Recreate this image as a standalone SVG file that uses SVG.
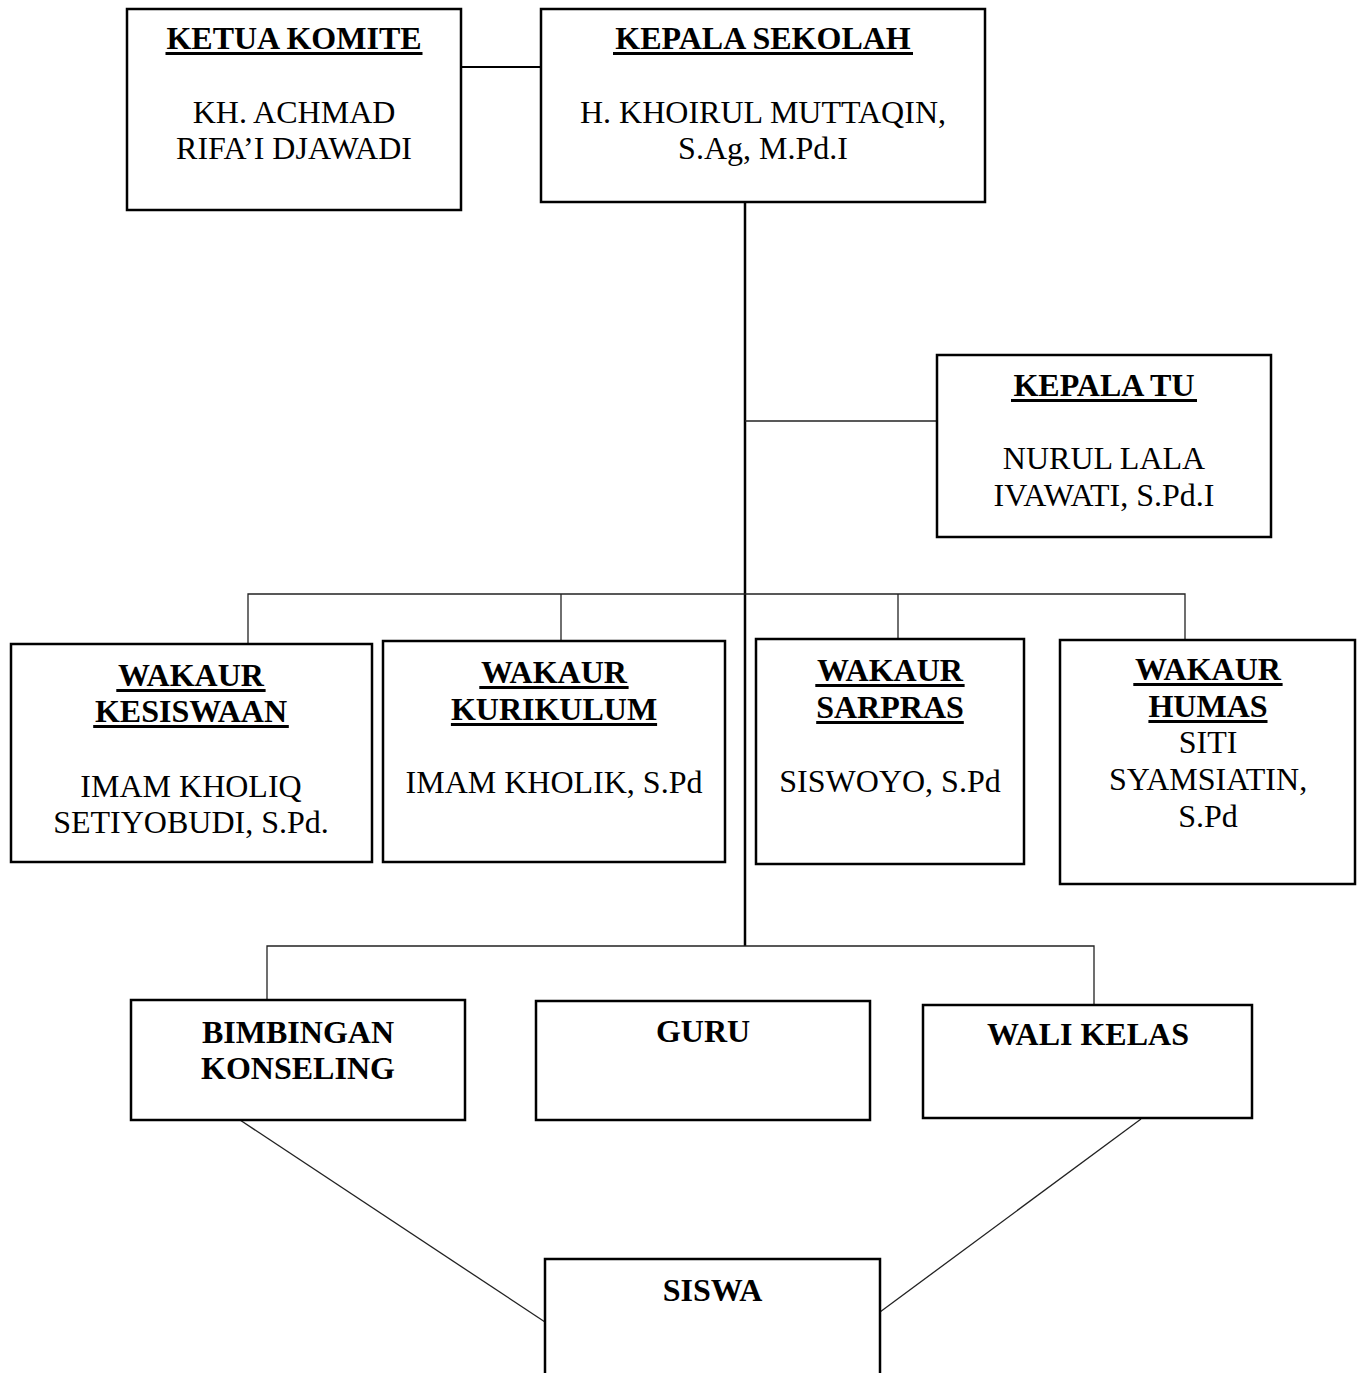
<svg xmlns="http://www.w3.org/2000/svg" width="1365" height="1373" viewBox="0 0 1365 1373">
<style>
.box{fill:#fff;stroke:#000;stroke-width:2.5}
.t{font-family:"Liberation Serif","Times New Roman",serif;font-size:32px;fill:#000;text-anchor:middle}
.b{font-weight:bold}
.ul{fill:#000}
.thick{fill:none;stroke:#000;stroke-width:2.5}
.mid{fill:none;stroke:#000;stroke-width:2}
.thin{fill:none;stroke:#222;stroke-width:1.3}
</style>
<rect width="1365" height="1373" fill="#fff"/>
<g id="connectors">
<path class="mid" d="M461 67H541"/>
<path class="thick" d="M745 202V946"/>
<path class="thin" d="M745 421H937"/>
<path class="thin" d="M248 644V594H1185V640"/>
<path class="thin" d="M561 594V641"/>
<path class="thin" d="M898 594V639"/>
<path class="thin" d="M267 1000V946H1094V1005"/>
<path class="thin" d="M240 1120L545 1322"/>
<path class="thin" d="M1141 1119L880 1312"/>
</g>
<g id="ketua-komite">
<rect class="box" x="127" y="9" width="334" height="201"/>
<text class="t b" x="294" y="49">KETUA KOMITE</text>
<rect class="ul" x="165.5" y="52" width="257" height="3"/>
<text class="t" x="294" y="122.5">KH. ACHMAD</text>
<text class="t" x="294" y="159">RIFA’I DJAWADI</text>
</g>
<g id="kepala-sekolah">
<rect class="box" x="541" y="9" width="444" height="193"/>
<text class="t b" x="763" y="49">KEPALA SEKOLAH</text>
<rect class="ul" x="613" y="52" width="300" height="3"/>
<text class="t" x="763" y="122.5">H. KHOIRUL MUTTAQIN,</text>
<text class="t" x="763" y="159">S.Ag, M.Pd.I</text>
</g>
<g id="kepala-tu">
<rect class="box" x="937" y="355" width="334" height="182"/>
<text class="t b" x="1104" y="396">KEPALA TU</text>
<rect class="ul" x="1011" y="399" width="186" height="3"/>
<text class="t" x="1104" y="469">NURUL LALA</text>
<text class="t" x="1104" y="506">IVAWATI, S.Pd.I</text>
</g>
<g id="wakaur-kesiswaan">
<rect class="box" x="11" y="644" width="361" height="218"/>
<text class="t b" x="191" y="686">WAKAUR</text>
<rect class="ul" x="116.3" y="689" width="149.3" height="3"/>
<text class="t b" x="191" y="722">KESISWAAN</text>
<rect class="ul" x="93.2" y="725" width="195.6" height="3"/>
<text class="t" x="191" y="797">IMAM KHOLIQ</text>
<text class="t" x="191" y="833">SETIYOBUDI, S.Pd.</text>
</g>
<g id="wakaur-kurikulum">
<rect class="box" x="383" y="641" width="342" height="221"/>
<text class="t b" x="554" y="683">WAKAUR</text>
<rect class="ul" x="479.3" y="686" width="149.3" height="3"/>
<text class="t b" x="554" y="720">KURIKULUM</text>
<rect class="ul" x="450.9" y="723" width="206.2" height="3"/>
<text class="t" x="554" y="793">IMAM KHOLIK, S.Pd</text>
</g>
<g id="wakaur-sarpras">
<rect class="box" x="756" y="639" width="268" height="225"/>
<text class="t b" x="890" y="681">WAKAUR</text>
<rect class="ul" x="815.3" y="684" width="149.3" height="3"/>
<text class="t b" x="890" y="718">SARPRAS</text>
<rect class="ul" x="816.2" y="721" width="147.6" height="3"/>
<text class="t" x="890" y="792">SISWOYO, S.Pd</text>
</g>
<g id="wakaur-humas">
<rect class="box" x="1060" y="640" width="295" height="244"/>
<text class="t b" x="1208" y="680">WAKAUR</text>
<rect class="ul" x="1133.3" y="683" width="149.3" height="3"/>
<text class="t b" x="1208" y="717">HUMAS</text>
<rect class="ul" x="1148.4" y="720" width="119.1" height="3"/>
<text class="t" x="1208" y="753">SITI</text>
<text class="t" x="1208" y="790">SYAMSIATIN,</text>
<text class="t" x="1208" y="827">S.Pd</text>
</g>
<g id="bimbingan-konseling">
<rect class="box" x="131" y="1000" width="334" height="120"/>
<text class="t b" x="298" y="1043">BIMBINGAN</text>
<text class="t b" x="298" y="1079">KONSELING</text>
</g>
<g id="guru">
<rect class="box" x="536" y="1001" width="334" height="119"/>
<text class="t b" x="703" y="1042">GURU</text>
</g>
<g id="wali-kelas">
<rect class="box" x="923" y="1005" width="329" height="113"/>
<text class="t b" x="1088" y="1045">WALI KELAS</text>
</g>
<g id="siswa">
<rect class="box" x="545" y="1259" width="335" height="160"/>
<text class="t b" x="712.5" y="1301">SISWA</text>
</g>
</svg>
